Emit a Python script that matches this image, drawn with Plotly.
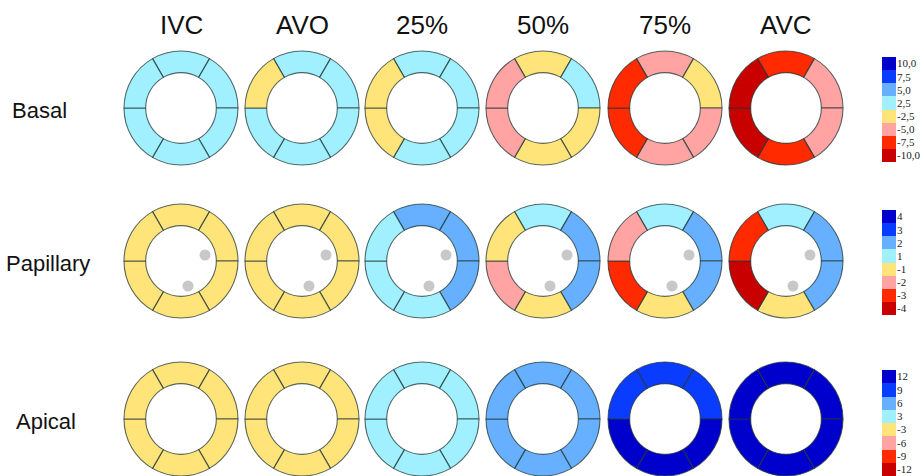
import plotly.graph_objects as go

W, H = 924, 476

phases = ["IVC", "AVO", "25%", "50%", "75%", "AVC"]
levels = ["Basal", "Papillary", "Apical"]

# Strain classes 0 (most negative) .. 7 (most positive)
palette = ["#c80000", "#ff2a00", "#ffa3a3", "#ffe47a",
           "#a0f0ff", "#66b0ff", "#0a3cff", "#0000cc"]

# Segment classes, clockwise from the top segment:
# top, upper-right, lower-right, bottom, lower-left, upper-left
basal = [
    [4, 4, 4, 4, 4, 4],
    [4, 4, 4, 4, 4, 3],
    [4, 4, 4, 4, 3, 3],
    [3, 4, 3, 3, 2, 2],
    [2, 3, 2, 2, 1, 1],
    [1, 2, 2, 1, 0, 0],
]
papillary = [
    [3, 3, 3, 3, 3, 3],
    [3, 3, 3, 3, 3, 3],
    [5, 5, 5, 4, 4, 4],
    [4, 5, 5, 3, 2, 3],
    [4, 5, 5, 3, 1, 2],
    [4, 5, 5, 3, 0, 1],
]
apical = [
    [3, 3, 3, 3, 3, 3],
    [3, 3, 3, 3, 3, 3],
    [4, 4, 4, 4, 4, 4],
    [5, 5, 5, 5, 5, 5],
    [6, 6, 7, 7, 7, 6],
    [7, 7, 7, 7, 7, 7],
]
level_classes = [basal, papillary, apical]

# Colour-scale tick labels, top to bottom
basal_ticks = ["10,0", "7,5", "5,0", "2,5", "-2,5", "-5,0", "-7,5", "-10,0"]
papillary_ticks = ["4", "3", "2", "1", "-1", "-2", "-3", "-4"]
apical_ticks = ["12", "9", "6", "3", "-3", "-6", "-9", "-12"]
scale_ticks = [basal_ticks, papillary_ticks, apical_ticks]

# Papillary muscle markers (offsets from the ring centre, px)
muscle_dx = [24, 7]
muscle_dy = [-6, 25]

# Layout (pixels)
col_x = [181, 302, 422, 543, 665, 786]
row_y = [108, 261, 419]
R = 57
bar_top = [57, 210, 370]
bar_bot = [162, 315, 476]

fig = go.Figure()

for r, classes in enumerate(level_classes):
    for c, seg in enumerate(classes):
        cx, cy = col_x[c], row_y[r]
        fig.add_trace(go.Pie(
            values=[1] * 6,
            marker=dict(colors=[palette[k] for k in seg],
                        line=dict(color="rgba(35,55,55,0.75)", width=1.1)),
            hole=0.62, sort=False, direction="clockwise", rotation=-30,
            textinfo="none", hoverinfo="skip", showlegend=False,
            domain=dict(x=[(cx - R) / W, (cx + R) / W],
                        y=[1 - (cy + R) / H, 1 - (cy - R) / H]),
        ))

# Papillary muscles in the cavity of the mid rings
mx, my = [], []
for cx in col_x:
    for dx, dy in zip(muscle_dx, muscle_dy):
        mx.append(cx + dx)
        my.append(row_y[1] + dy)
fig.add_trace(go.Scatter(x=mx, y=my, mode="markers",
                         marker=dict(size=11, color="#c8c8c8"),
                         hoverinfo="skip", showlegend=False,
                         xaxis="x", yaxis="y"))

# Discrete colour scales drawn as one-column heatmaps
cs = []
for i, col in enumerate(palette):
    cs.append([i / 8, col])
    cs.append([(i + 1) / 8, col])

for i, ticks in enumerate(scale_ticks):
    n = i + 2
    fig.add_trace(go.Heatmap(
        z=[[k] for k in range(8)], y=list(range(8)), x=[0],
        colorscale=cs, zmin=-0.5, zmax=7.5, showscale=False,
        hoverinfo="skip", xaxis=f"x{n}", yaxis=f"y{n}",
    ))
    fig.update_layout(**{
        f"xaxis{n}": dict(domain=[882 / W, 896 / W], visible=False,
                          anchor=f"y{n}", fixedrange=True),
        f"yaxis{n}": dict(domain=[1 - bar_bot[i] / H, 1 - bar_top[i] / H],
                          anchor=f"x{n}", side="right",
                          tickvals=list(range(8)), ticktext=ticks[::-1],
                          ticks="", showgrid=False, zeroline=False,
                          range=[-0.5, 7.5], fixedrange=True,
                          tickfont=dict(family="Liberation Serif", size=11,
                                        color="#222")),
    })

ann = []
for c, name in enumerate(phases):
    ann.append(dict(x=col_x[c] / W, y=1 - 25 / H, xref="paper", yref="paper",
                    text=name, showarrow=False, xanchor="center",
                    yanchor="middle",
                    font=dict(family="Liberation Sans Narrow, Liberation Sans, Arial",
                              size=26, color="#111")))
label_x = [10, 4, 14]
for r, name in enumerate(levels):
    ann.append(dict(x=label_x[r] / W, y=1 - (row_y[r] + 2) / H,
                    xref="paper", yref="paper", text=name, showarrow=False,
                    xanchor="left", yanchor="middle",
                    font=dict(family="Liberation Sans, Arial", size=22,
                              color="#111")))

fig.update_layout(
    width=W, height=H,
    margin=dict(l=0, r=0, t=0, b=0),
    paper_bgcolor="white", plot_bgcolor="rgba(0,0,0,0)",
    xaxis=dict(domain=[0, 1], range=[0, W], visible=False, fixedrange=True),
    yaxis=dict(domain=[0, 1], range=[H, 0], visible=False, fixedrange=True),
    annotations=ann,
)

fig.write_html("out.html")
